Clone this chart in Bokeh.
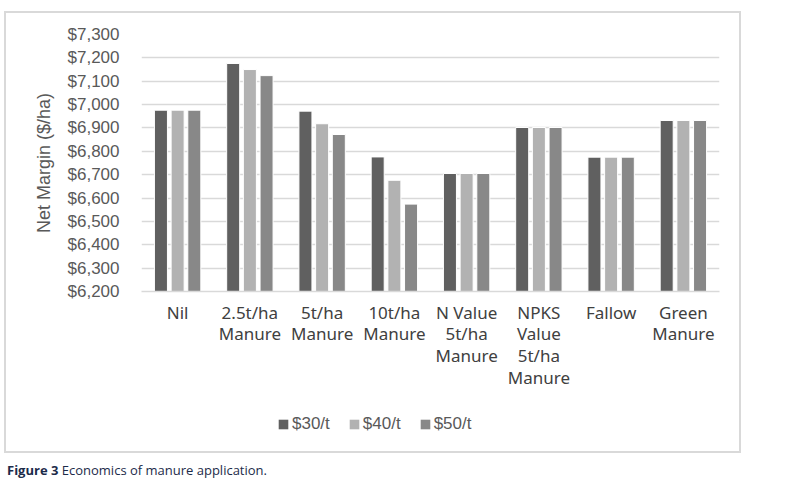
from bokeh.plotting import figure
from bokeh.models import (ColumnDataSource, FactorRange, Range1d, FixedTicker,
                          NumeralTickFormatter, Legend, LegendItem, Div)
from bokeh.layouts import column
from bokeh.transform import dodge
from bokeh.embed import file_html
from bokeh.resources import INLINE

# Treatments (x categories) and net margin ($/ha) at three manure prices
categories = ["Nil", "2.5t/ha\nManure", "5t/ha\nManure", "10t/ha\nManure",
              "N Value\n5t/ha\nManure", "NPKS\nValue\n5t/ha\nManure", "Fallow", "Green\nManure"]
price_30 = [6976, 7176, 6972, 6776, 6705, 6902, 6775, 6932]
price_40 = [6976, 7150, 6918, 6676, 6705, 6902, 6775, 6932]
price_50 = [6976, 7124, 6872, 6574, 6705, 6902, 6775, 6932]
series_labels = ["$30/t", "$40/t", "$50/t"]
series_colors = ["#606060", "#b2b2b2", "#888888"]
y_ticks = list(range(6200, 7301, 100))

TEXT = "#595959"

source = ColumnDataSource(dict(cat=categories, p30=price_30, p40=price_40, p50=price_50))

p = figure(width=733, height=387, x_range=FactorRange(*categories),
           y_range=Range1d(6200, 7300), output_backend="svg", toolbar_location=None,
           min_border_left=135, min_border_right=20, min_border_top=21, min_border_bottom=109)
p.outline_line_color = None
p.background_fill_color = "white"
p.border_fill_color = "white"

# y axis
p.yaxis.ticker = FixedTicker(ticks=y_ticks)
p.yaxis.formatter = NumeralTickFormatter(format="$0,0")
p.yaxis.axis_line_color = None
p.yaxis.major_tick_line_color = None
p.yaxis.minor_tick_line_color = None
p.yaxis.major_label_text_font = "Liberation Sans"
p.yaxis.major_label_text_font_size = "17px"
p.yaxis.major_label_text_color = TEXT
p.yaxis.major_label_standoff = 16
p.yaxis.axis_label = "Net Margin ($/ha)"
p.yaxis.axis_label_text_font = "Liberation Sans"
p.yaxis.axis_label_text_font_size = "18px"
p.yaxis.axis_label_text_font_style = "normal"
p.yaxis.axis_label_text_color = TEXT
p.yaxis.axis_label_standoff = 11

# x axis
p.xaxis.axis_line_color = "#d9d9d9"
p.xaxis.axis_line_width = 1.5
p.xaxis.major_tick_line_color = None
p.xaxis.minor_tick_line_color = None
p.xaxis.major_label_text_font = "Noto Sans"
p.xaxis.major_label_text_font_size = "17px"
p.xaxis.major_label_text_color = "#404040"
p.xaxis.major_label_text_line_height = 0.95
p.xaxis.major_label_standoff = 3

p.xgrid.grid_line_color = None
p.ygrid.grid_line_color = "#d9d9d9"
p.ygrid.grid_line_width = 1.5

offsets = [-0.231, 0.0, 0.231]
for col, off, color in zip(["p30", "p40", "p50"], offsets, series_colors):
    p.vbar(x=dodge("cat", off, range=p.x_range), top=col, bottom=6200, width=0.18,
           source=source, fill_color=color, line_color="white", line_width=1)

# legend strip under the chart; its swatch renderers sit outside the visible range
leg = figure(width=733, height=51, x_range=Range1d(0, 1), y_range=Range1d(0, 1),
             x_axis_type=None, y_axis_type=None, output_backend="svg", toolbar_location=None,
             min_border=0)
leg.outline_line_color = None
leg.xgrid.grid_line_color = None
leg.ygrid.grid_line_color = None
leg_renderers = [leg.vbar(x=[-10], top=[-10], bottom=[-11], width=0.1,
                          fill_color=c, line_color=None)
                 for c in series_colors]
legend = Legend(items=[LegendItem(label=lab, renderers=[r])
                       for lab, r in zip(series_labels, leg_renderers)],
                orientation="horizontal", location=(136, 17), padding=0, margin=0,
                spacing=18, label_standoff=3, glyph_width=12, glyph_height=12,
                label_text_font="Liberation Sans", label_text_font_size="17px",
                label_text_color=TEXT, border_line_color=None, background_fill_alpha=0)
leg.add_layout(legend, "center")

# chart framed by a light grey border
chart_box = column(p, leg, styles={"border": "2px solid #d9d9d9", "margin-left": "4px",
                                   "margin-top": "11px"})

caption = Div(text='<span style="font-weight:700">Figure 3</span> Economics of manure application.',
              styles={"font-family": "Open Sans", "font-size": "13px", "color": "#1c2b4a",
                      "margin-left": "7px", "margin-top": "8px"})

layout = column(chart_box, caption)

open("out.html", "w").write(file_html(layout, INLINE))
